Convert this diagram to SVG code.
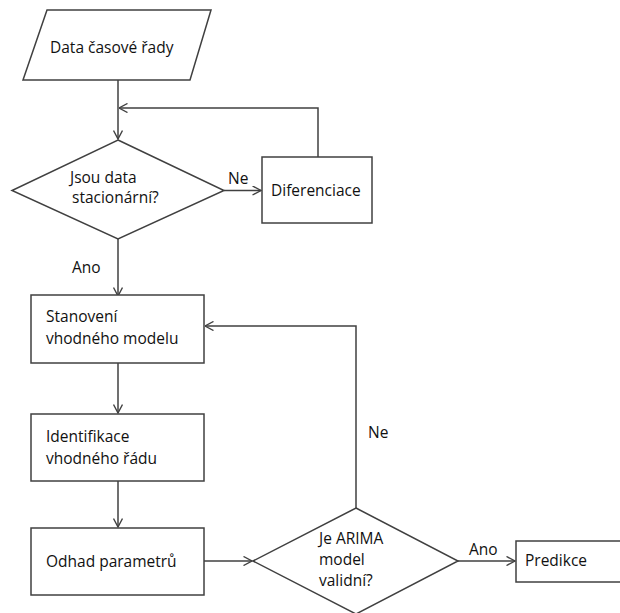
<svg xmlns="http://www.w3.org/2000/svg" width="620" height="613" viewBox="0 0 620 613">
<style>
.s{fill:#fff;stroke:#404040;stroke-width:1.5}
.c{fill:none;stroke:#404040;stroke-width:1.5}
text{font-family:"Open Sans","Liberation Sans",sans-serif;font-size:15.5px;fill:#111}
</style>
<defs>
<marker id="a" viewBox="0 0 10 10" refX="9.5" refY="5" markerWidth="10" markerHeight="10" markerUnits="userSpaceOnUse" orient="auto">
<path d="M1,0.5 L9.5,5 L1,9.5" fill="none" stroke="#404040" stroke-width="1.4"/>
</marker>
</defs>
<rect width="620" height="613" fill="#fff"/>
<g id="connectors">
<path class="c" d="M118,80 V139" marker-end="url(#a)"/>
<path class="c" d="M318,157 V108 H119" marker-end="url(#a)"/>
<path class="c" d="M224,190.5 H261" marker-end="url(#a)"/>
<path class="c" d="M118,239 V296" marker-end="url(#a)"/>
<path class="c" d="M118,363 V413" marker-end="url(#a)"/>
<path class="c" d="M118,481 V527" marker-end="url(#a)"/>
<path class="c" d="M204,561 H252" marker-end="url(#a)"/>
<path class="c" d="M356,508 V326 H205" marker-end="url(#a)"/>
<path class="c" d="M458,561 H515" marker-end="url(#a)"/>
<text x="228" y="184">Ne</text>
<text x="72" y="273">Ano</text>
<text x="368" y="438">Ne</text>
<text x="469" y="555">Ano</text>
</g>
<g id="data">
<polygon class="s" points="47,10 211,10 190,80 23,80"/>
<text x="50" y="53">Data časové řady</text>
</g>
<g id="stacionarni">
<polygon class="s" points="118,140 224,190.5 118,239 12,190.5"/>
<text x="70" y="183">Jsou data</text>
<text x="72" y="203">stacionární?</text>
</g>
<g id="diferenciace">
<rect class="s" x="262" y="157" width="110" height="66"/>
<text x="271" y="196">Diferenciace</text>
</g>
<g id="stanoveni">
<rect class="s" x="31" y="295" width="173" height="68"/>
<text x="46" y="322">Stanovení</text>
<text x="46" y="344">vhodného modelu</text>
</g>
<g id="identifikace">
<rect class="s" x="31" y="414" width="173" height="67"/>
<text x="46" y="442">Identifikace</text>
<text x="46" y="464">vhodného řádu</text>
</g>
<g id="odhad">
<rect class="s" x="31" y="528" width="173" height="67"/>
<text x="46" y="567">Odhad parametrů</text>
</g>
<g id="arima">
<polygon class="s" points="356,508 458,561 356,614 253,561"/>
<text x="319" y="544">Je ARIMA</text>
<text x="319" y="565">model</text>
<text x="319" y="586">validní?</text>
</g>
<g id="predikce">
<rect class="s" x="516" y="541" width="110" height="41"/>
<text x="525" y="566">Predikce</text>
</g>
</svg>
